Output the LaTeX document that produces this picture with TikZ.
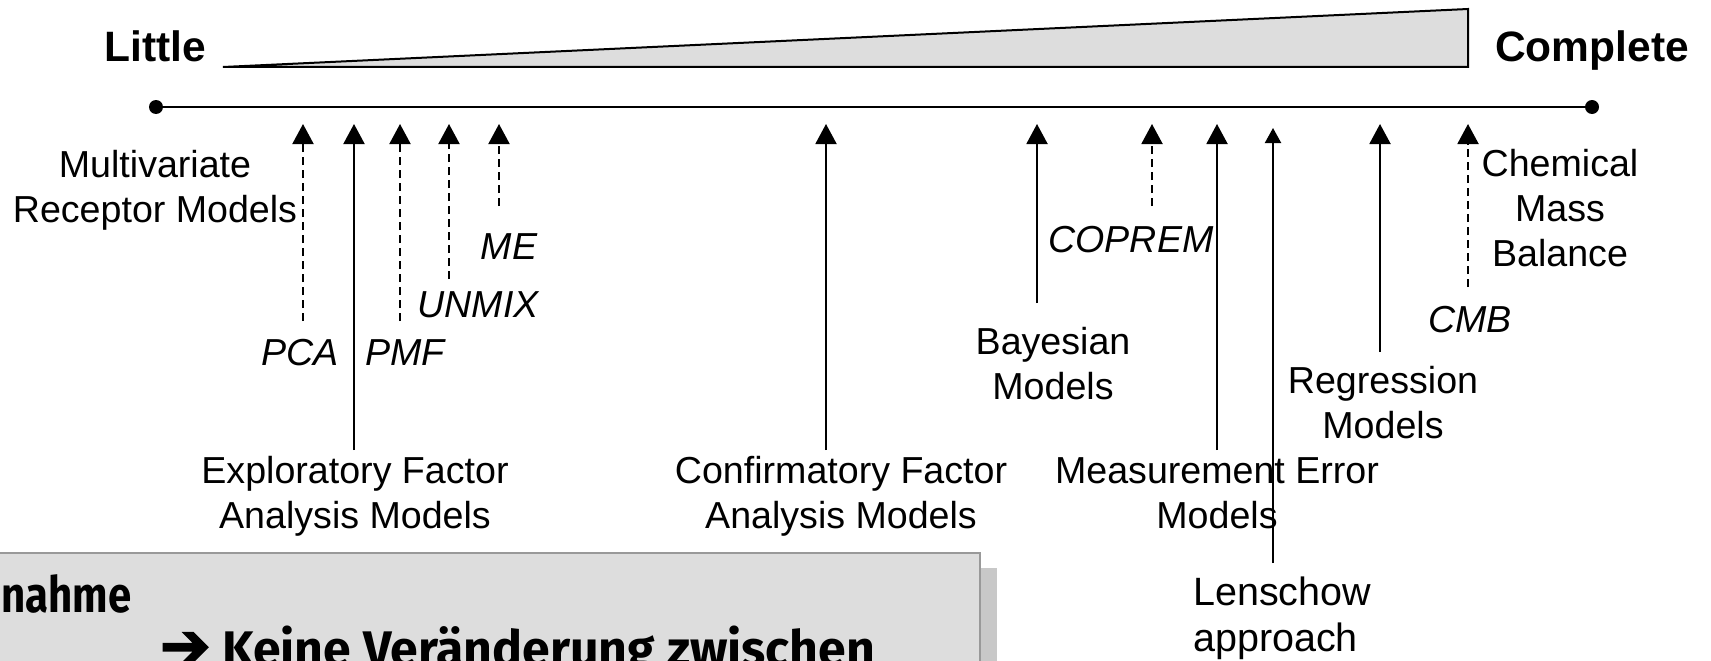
\documentclass[tikz,border=0pt]{standalone}
\usepackage{fontspec}
\setmainfont{Liberation Sans}
\newfontfamily\boxfont{Fira Sans}
\newfontfamily\boxfontn{Fira Sans}[FakeStretch=0.84]
\newfontfamily\arrowfont{DejaVu Sans}[FakeBold=3]
\usetikzlibrary{arrows.meta}
\definecolor{wedgegray}{HTML}{DDDDDD}
\definecolor{boxgray}{HTML}{DDDDDD}
\definecolor{boxborder}{HTML}{999999}
\definecolor{shadowgray}{HTML}{C8C8C8}
\begin{document}
\begin{tikzpicture}[x=1pt,y=-1pt,
  lab/.style={font=\fontsize{37.6}{45}\selectfont, inner sep=0pt, align=center, anchor=base},
  ilab/.style={font=\fontsize{37.6}{45}\selectfont\itshape, inner sep=0pt, anchor=base},
  ttl/.style={font=\fontsize{42.5}{50}\selectfont\bfseries, inner sep=0pt, anchor=base},
  boxtxt/.style={font=\fontsize{50}{56}\selectfont\boxfont\bfseries, inner sep=0pt},
  dotnode/.style={circle, fill=black, inner sep=0pt, minimum size=14pt},
  solidarr/.style={line width=2pt, -{Triangle[width=21pt,length=20pt]}},
  dasharr/.style={solidarr, dash pattern=on 8pt off 5pt},
  smallarr/.style={line width=2pt, -{Triangle[width=16pt,length=15pt]}},
]
\useasboundingbox (0,0) rectangle (1711,661);

% scale wedge
\draw[line width=2pt, fill=wedgegray] (223,67) -- (1468,9) -- (1468,67) -- cycle;
\node[ttl] (little) at (155,62) {Little};
\node[ttl] (complete) at (1592,62) {Complete};

% axis
\node[dotnode] (ldot) at (156,107) {};
\node[dotnode] (rdot) at (1592,107) {};
\draw[line width=2pt] (ldot.center) -- (rdot.center);

% labels (base anchor = baseline of the last line)
\node[lab] (mvr) at (155,222) {Multivariate\\Receptor Models};
\node[ilab] (pca) at (300,365) {PCA};
\node[ilab] (pmf) at (405,365) {PMF};
\node[ilab] (unmix) at (478,317) {UNMIX};
\node[ilab] (me) at (509,259) {ME};
\node[lab] (efa) at (355,528) {Exploratory Factor\\Analysis Models};
\node[lab] (cfa) at (841,528) {Confirmatory Factor\\Analysis Models};
\node[lab] (bay) at (1053,399) {Bayesian\\Models};
\node[ilab] (coprem) at (1131,252) {COPREM};
\node[lab] (mee) at (1217,528) {Measurement Error\\Models};
\node[lab, align=left, anchor=base west, font=\fontsize{39.5}{46}\selectfont] (lens) at (1193,651) {Lenschow\\approach};
\node[lab] (reg) at (1383,438) {Regression\\Models};
\node[ilab] (cmb) at (1470,332) {CMB};
\node[lab] (chem) at (1560,266) {Chemical\\Mass\\Balance};

% arrow end points
\foreach \n/\x/\yb in {pca/303/321, efa/354/450, pmf/400/321, unmix/449/279, me/499/206,
  cfa/826/450, bay/1037/303, coprem/1152/206, mee/1217/450, reg/1380/352, cmb/1468/287}{
  \coordinate (\n B) at (\x,\yb);
  \coordinate (\n T) at (\x,124);
}
\coordinate (lensB) at (1273,563);
\coordinate (lensT) at (1273,128);

\draw[dasharr] (pcaB) -- (pcaT);
\draw[solidarr] (efaB) -- (efaT);
\draw[dasharr] (pmfB) -- (pmfT);
\draw[dasharr] (unmixB) -- (unmixT);
\draw[dasharr] (meB) -- (meT);
\draw[solidarr] (cfaB) -- (cfaT);
\draw[solidarr] (bayB) -- (bayT);
\draw[dasharr] (copremB) -- (copremT);
\draw[solidarr] (meeB) -- (meeT);
\draw[smallarr] (lensB) -- (lensT);
\draw[solidarr] (regB) -- (regT);
\draw[dasharr] (cmbB) -- (cmbT);

% bottom box with shadow
\fill[shadowgray] (17,568) rectangle (997,720);
\draw[line width=2pt, draw=boxborder, fill=boxgray] (-10,553) rectangle (980,720);
\node[boxtxt, font=\fontsize{50}{56}\selectfont\boxfontn\bfseries, anchor=base west] (nahme) at (1,612) {nahme};
\node[boxtxt, anchor=base west] (keine) at (160,666) {{\arrowfont\fontsize{60}{60}\selectfont ➔}\hspace{12pt}Keine Veränderung zwischen};
\end{tikzpicture}
\end{document}
